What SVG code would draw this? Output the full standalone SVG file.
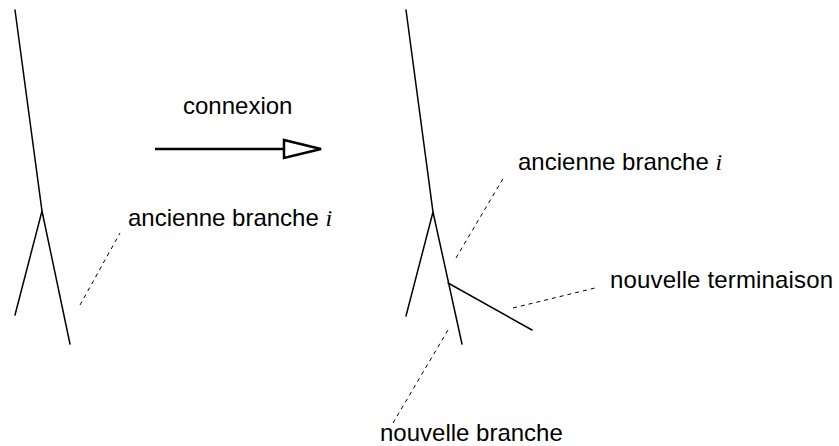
<svg xmlns="http://www.w3.org/2000/svg" width="839" height="446" viewBox="0 0 839 446">
<style>
.t{fill:none;stroke:#000;stroke-width:1.5;stroke-linecap:round}
.d{fill:none;stroke:#000;stroke-width:1;stroke-dasharray:4 4}
.a{fill:none;stroke:#000;stroke-width:2.5}
.h{fill:#fff;stroke:#000;stroke-width:2.5;stroke-linejoin:miter}
text{font-family:"Liberation Sans",Arial,sans-serif;font-size:24px;fill:#000}
.m{font-family:"Liberation Serif","Times New Roman",serif;font-style:italic}
</style>
<rect width="839" height="446" fill="#fff"/>
<g id="tree-before">
<path class="t" d="M15,10 L42,211 L70,344 M42,211 L15,315"/>
</g>
<g id="tree-after">
<path class="t" d="M406,10 L433,212 L462,344 M433,212 L406,316 M448,283 L532,330"/>
</g>
<g id="label-connexion"><text x="183" y="114">connexion</text></g>
<g id="label-ancienne-left"><text x="128" y="226">ancienne branche <tspan class="m">i</tspan></text></g>
<g id="label-ancienne-right"><text x="518" y="170">ancienne branche <tspan class="m">i</tspan></text></g>
<g id="label-terminaison"><text x="610" y="288" textLength="223">nouvelle terminaison</text></g>
<g id="label-nouvelle-branche"><text x="380" y="441">nouvelle branche</text></g>
<g id="connectors">
<line class="a" x1="155" y1="149" x2="284" y2="149"/>
<polygon class="h" points="284,140 321,149 284,158"/>
<line class="d" x1="80" y1="305" x2="120" y2="233"/>
<line class="d" x1="456" y1="258" x2="504" y2="177"/>
<line class="d" x1="513" y1="308" x2="595" y2="288"/>
<line class="d" x1="448" y1="330" x2="393" y2="423"/>
</g>
</svg>
